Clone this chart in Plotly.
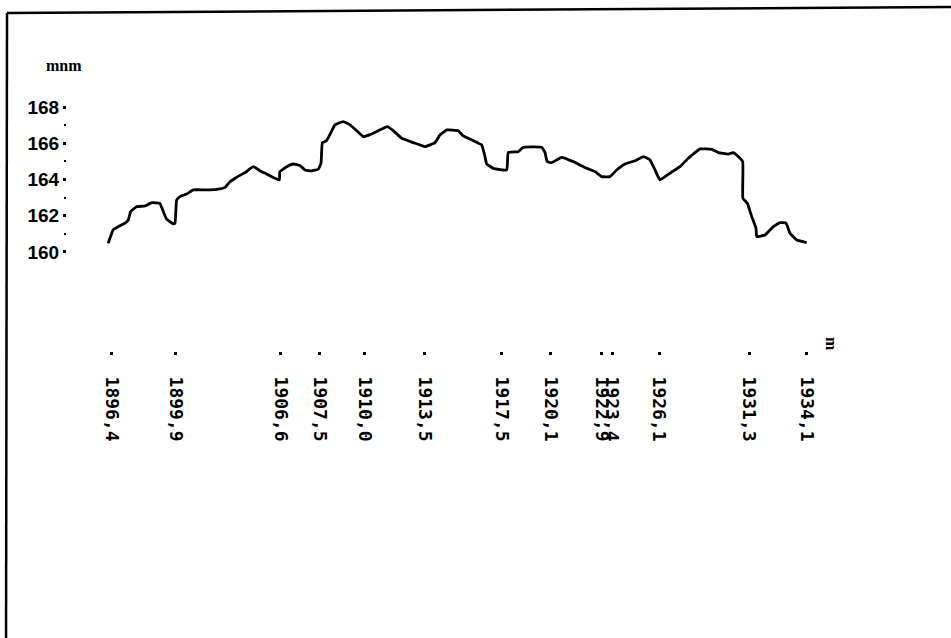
import plotly.graph_objects as go

# Longitudinal profile: chainage (km) and ground elevation (m a.s.l.)
chainage = [
    1896.25, 1896.35, 1896.52, 1896.80, 1897.16, 1897.34, 1897.47, 1897.79, 1898.24, 1898.61,
    1899.05, 1899.27, 1899.42, 1899.78, 1899.87, 1899.96, 1900.14, 1900.50, 1900.86, 1901.49,
    1902.13, 1902.58, 1902.85, 1903.21, 1903.66, 1904.11, 1904.47, 1904.83, 1905.28, 1905.52,
    1905.55, 1905.92, 1906.28, 1906.64, 1906.91, 1907.27, 1907.63, 1907.78, 1907.85, 1908.08,
    1908.30, 1908.53, 1908.98, 1909.35, 1909.71, 1910.07, 1910.43, 1910.79, 1911.37, 1911.69,
    1912.15, 1912.78, 1913.41, 1913.95, 1914.22, 1914.59, 1915.21, 1915.48, 1916.03, 1916.48,
    1916.66, 1916.75, 1917.11, 1917.84, 1917.92, 1918.46, 1918.73, 1919.73, 1919.91, 1920.03,
    1920.27, 1920.81, 1921.44, 1922.17, 1922.62, 1922.98, 1923.43, 1923.79, 1924.24, 1924.79,
    1925.24, 1925.60, 1925.87, 1926.14, 1926.68, 1927.22, 1927.67, 1928.31, 1928.94, 1929.30,
    1929.84, 1930.11, 1930.38, 1930.62, 1930.63, 1930.87, 1931.11, 1931.34, 1931.38, 1931.83,
    1932.28, 1932.64, 1932.97, 1933.18, 1933.55, 1934.09,
]
elevation = [
    160.48, 160.77, 161.22, 161.40, 161.59, 161.77, 162.23, 162.50, 162.54, 162.72,
    162.69, 162.14, 161.81, 161.55, 161.59, 162.87, 163.06, 163.20, 163.43, 163.43,
    163.46, 163.57, 163.88, 164.13, 164.38, 164.71, 164.49, 164.31, 164.07, 163.98,
    164.44, 164.71, 164.86, 164.77, 164.53, 164.48, 164.57, 164.90, 166.04, 166.15,
    166.56, 167.02, 167.20, 167.02, 166.70, 166.37, 166.48, 166.65, 166.92, 166.70,
    166.28, 166.04, 165.82, 166.04, 166.46, 166.74, 166.70, 166.41, 166.15, 165.91,
    165.27, 164.86, 164.62, 164.53, 165.49, 165.54, 165.78, 165.78, 165.49, 164.99,
    164.93, 165.23, 164.99, 164.62, 164.44, 164.16, 164.16, 164.53, 164.86, 165.04,
    165.27, 165.08, 164.53, 163.98, 164.35, 164.71, 165.18, 165.69, 165.67, 165.49,
    165.41, 165.49, 165.27, 164.99, 162.97, 162.69, 161.95, 161.31, 160.85, 160.94,
    161.40, 161.62, 161.59, 161.03, 160.66, 160.51,
]

# Stations marked along the route: where each sits on the drawn profile, and its label
station_pos = [1896.45, 1899.92, 1905.61, 1907.72, 1910.16, 1913.41, 1917.58, 1920.23,
               1922.98, 1923.54, 1926.09, 1930.97, 1934.10]
station_labels = ["1896,4", "1899,9", "1906,6", "1907,5", "1910,0", "1913,5", "1917,5",
                  "1920,1", "1922,9", "1923,4", "1926,1", "1931,3", "1934,1"]

elev_ticks = [160, 162, 164, 166, 168]
elev_minor = [161, 163, 165, 167]

fig = go.Figure()
fig.add_trace(go.Scatter(
    x=chainage, y=elevation, mode="lines",
    line=dict(color="black", width=2.8, shape="spline", smoothing=0.3),
    hoverinfo="skip", showlegend=False,
))

mono = dict(family="DejaVu Sans Mono", size=18, color="black", weight="bold")
sans = dict(family="Liberation Sans", size=19, color="black", weight="bold")
serif = dict(family="Liberation Serif", size=16, color="black", weight="bold")

fig.update_layout(
    width=951, height=638,
    margin=dict(l=67, r=111, t=95, b=287),
    paper_bgcolor="white", plot_bgcolor="white",
    xaxis=dict(
        range=[1894.02, 1935.89],
        tickmode="array", tickvals=station_pos, ticktext=station_labels,
        tickangle=90, tickfont=mono,
        ticks="outside", ticklen=3, tickwidth=3, tickcolor="black",
        ticklabelstandoff=18,
        showline=False, showgrid=False, zeroline=False,
    ),
    yaxis=dict(
        range=[154.53, 168.67],
        tickmode="array", tickvals=elev_ticks, ticktext=[str(v) for v in elev_ticks],
        tickfont=sans,
        ticks="outside", ticklen=3, tickwidth=3, tickcolor="black",
        minor=dict(tickmode="array", tickvals=elev_minor, ticks="outside",
                   ticklen=2, tickwidth=2, tickcolor="black"),
        showline=False, showgrid=False, zeroline=False,
    ),
    annotations=[
        dict(text="mnm", xref="paper", yref="paper", x=-0.004, y=1.117,
             xanchor="center", yanchor="middle", showarrow=False, font=serif),
        dict(text="m", xref="paper", yref="paper", x=0.9897, y=0.027,
             xanchor="center", yanchor="middle", showarrow=False, font=serif,
             textangle=90),
    ],
    shapes=[
        # frame: left and top edges
        dict(type="line", xref="paper", yref="paper",
             x0=-0.0789, y0=-1.2, x1=-0.0776, y1=1.3203,
             line=dict(color="black", width=2.5)),
        dict(type="line", xref="paper", yref="paper",
             x0=-0.0776, y0=1.3203, x1=1.15, y1=1.3437,
             line=dict(color="black", width=2.5)),
    ],
)

fig.write_html("out.html")
